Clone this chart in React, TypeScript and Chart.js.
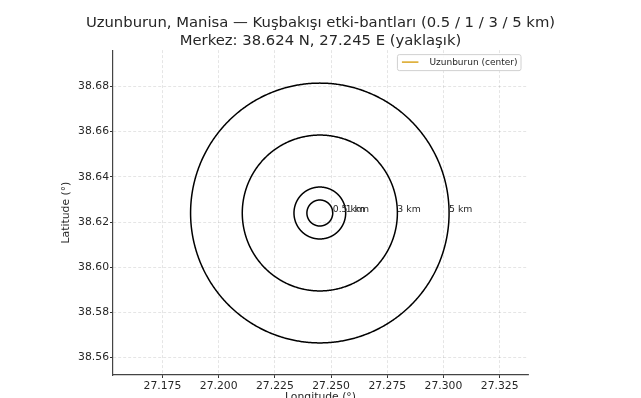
import React, { useEffect, useRef } from "react";
import { Chart, registerables } from "chart.js";

Chart.register(...registerables);

const CENTER_LAT = 38.624;
const CENTER_LON = 27.245;
const radiiKm = [0.5, 1, 3, 5];
const radiusLabels = ["0.5 km", "1 km", "3 km", "5 km"];
const centerLabel = "Uzunburun (center)";
const titleLines = [
  "Uzunburun, Manisa — Kuşbakışı etki-bantları (0.5 / 1 / 3 / 5 km)",
  "Merkez: 38.624 N, 27.245 E (yaklaşık)",
];
const xTicks = [27.175, 27.2, 27.225, 27.25, 27.275, 27.3, 27.325];
const yTicks = [38.56, 38.58, 38.6, 38.62, 38.64, 38.66, 38.68];
const xRange = [27.153, 27.3376];
const yRange = [38.5523, 38.6961];

const FONT = "'DejaVu Sans', sans-serif";
const TEXT = "#262626";
const CENTER_COLOR = "#DAA520";

// degrees per km (longitude-based, used for both axes)
const kmToDeg = (km: number) =>
  km / (111.32 * Math.cos((CENTER_LAT * Math.PI) / 180));

function circlePoints(km: number) {
  const r = kmToDeg(km);
  const pts: { x: number; y: number }[] = [];
  const n = 360;
  for (let i = 0; i <= n; i++) {
    const a = (2 * Math.PI * i) / n;
    pts.push({ x: CENTER_LON + r * Math.cos(a), y: CENTER_LAT + r * Math.sin(a) });
  }
  return pts;
}

const ringLabelPlugin = {
  id: "ringLabels",
  afterDatasetsDraw(chart: any) {
    const { ctx, scales } = chart;
    ctx.save();
    ctx.font = `9.3px ${FONT}`;
    ctx.fillStyle = TEXT;
    ctx.textAlign = "left";
    ctx.textBaseline = "alphabetic";
    radiiKm.forEach((km, i) => {
      const x = scales.x.getPixelForValue(CENTER_LON + kmToDeg(km));
      const y = scales.y.getPixelForValue(CENTER_LAT);
      ctx.fillText(radiusLabels[i], x, y - 1.5);
    });
    ctx.restore();
  },
};

const boxLegendPlugin = {
  id: "boxLegend",
  afterDraw(chart: any) {
    const { ctx, chartArea } = chart;
    ctx.save();
    ctx.font = `9px ${FONT}`;
    const w = ctx.measureText(centerLabel).width;
    const boxRight = chartArea.right - 7.5;
    const boxTop = chartArea.top + 4;
    const boxH = 16;
    const textX = boxRight - 3 - w;
    const lineEnd = textX - 11;
    const lineStart = lineEnd - 16.5;
    const boxLeft = lineStart - 5;
    const cy = boxTop + boxH / 2;
    ctx.beginPath();
    if ((ctx as any).roundRect) {
      (ctx as any).roundRect(boxLeft + 0.5, boxTop + 0.5, boxRight - boxLeft, boxH, 2);
    } else {
      ctx.rect(boxLeft + 0.5, boxTop + 0.5, boxRight - boxLeft, boxH);
    }
    ctx.fillStyle = "rgba(255,255,255,0.85)";
    ctx.fill();
    ctx.strokeStyle = "#d0d0d0";
    ctx.lineWidth = 1;
    ctx.stroke();
    ctx.beginPath();
    ctx.moveTo(lineStart, cy);
    ctx.lineTo(lineEnd, cy);
    ctx.strokeStyle = CENTER_COLOR;
    ctx.lineWidth = 1.5;
    ctx.stroke();
    ctx.fillStyle = TEXT;
    ctx.textAlign = "left";
    ctx.textBaseline = "middle";
    ctx.fillText(centerLabel, textX, cy + 0.5);
    ctx.restore();
  },
};

export default function App() {
  const ref = useRef<HTMLCanvasElement>(null);

  useEffect(() => {
    if (!ref.current) return;
    const datasets: any[] = radiiKm.map((km, i) => ({
      label: radiusLabels[i],
      data: circlePoints(km),
      showLine: true,
      borderColor: "#000000",
      borderWidth: 1.5,
      pointRadius: 0,
      fill: false,
      tension: 0.0001,
    }));
    datasets.push({
      label: centerLabel,
      data: [{ x: CENTER_LON, y: CENTER_LAT }],
      showLine: true,
      borderColor: CENTER_COLOR,
      backgroundColor: CENTER_COLOR,
      borderWidth: 1.5,
      pointRadius: 0,
    });

    const tickFont = { family: FONT, size: 10.8 };
    const grid = {
      color: "rgba(0,0,0,0.13)",
      lineWidth: 0.8,
      tickColor: "#333333",
      tickLength: 3,
      tickWidth: 1,
    };

    const chart = new Chart(ref.current, {
      type: "scatter",
      data: { datasets },
      plugins: [ringLabelPlugin, boxLegendPlugin],
      options: {
        animation: false,
        responsive: false,
        maintainAspectRatio: false,
        devicePixelRatio: 1,
        layout: { padding: 0 },
        plugins: {
          legend: { display: false },
          tooltip: { enabled: false },
          title: {
            display: true,
            text: titleLines,
            color: TEXT,
            font: { family: FONT, size: 14.8, weight: "normal", lineHeight: 1.22 },
            padding: { top: 14, bottom: 0 },
          },
        },
        scales: {
          x: {
            type: "linear",
            min: xRange[0],
            max: xRange[1],
            afterBuildTicks: (scale: any) => {
              scale.ticks = xTicks.map((v) => ({ value: v }));
            },
            afterFit: (scale: any) => {
              scale.height = 33;
            },
            ticks: {
              callback: (v: any) => Number(v).toFixed(3),
              color: TEXT,
              font: tickFont,
              padding: 2,
              maxRotation: 0,
              autoSkip: false,
            },
            grid,
            border: { display: true, color: "#444444", width: 1.2, dash: [3, 2] },
            title: {
              display: true,
              text: "Longitude (°)",
              color: TEXT,
              font: tickFont,
              padding: { top: 0, bottom: 4.5 },
            },
          },
          y: {
            type: "linear",
            position: "left",
            min: yRange[0],
            max: yRange[1],
            afterBuildTicks: (scale: any) => {
              scale.ticks = yTicks.map((v) => ({ value: v }));
            },
            afterFit: (scale: any) => {
              scale.width = 113;
            },
            ticks: {
              callback: (v: any) => Number(v).toFixed(2),
              color: TEXT,
              font: tickFont,
              padding: 1,
              autoSkip: false,
            },
            grid,
            border: { display: true, color: "#444444", width: 1.2, dash: [3, 2] },
            title: {
              display: true,
              text: "Latitude (°)",
              color: TEXT,
              font: tickFont,
              padding: { top: 59.5, bottom: 0 },
            },
          },
          yRight: {
            type: "linear",
            position: "right",
            display: true,
            min: 0,
            max: 1,
            afterFit: (scale: any) => {
              scale.width = 113;
            },
            ticks: { display: false },
            grid: { display: false, drawOnChartArea: false, drawTicks: false },
            border: { display: false },
            title: { display: false },
          },
        },
      } as any,
    });
    return () => chart.destroy();
  }, []);

  return (
    <div
      style={{
        position: "absolute",
        left: 0,
        top: 0,
        width: 641,
        height: 398,
        overflow: "hidden",
        background: "#ffffff",
      }}
    >
      <canvas ref={ref} width={641} height={408} style={{ display: "block" }} />
    </div>
  );
}
